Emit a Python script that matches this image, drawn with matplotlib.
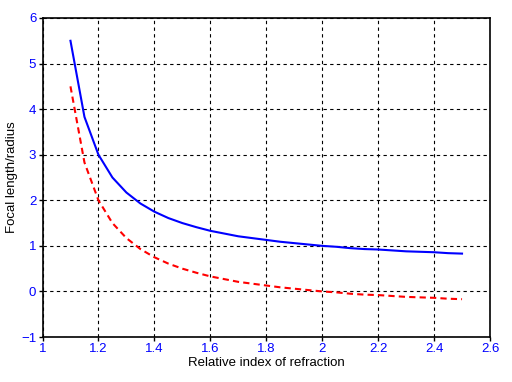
import matplotlib
matplotlib.use("Agg")
import matplotlib.pyplot as plt

# relative index of refraction (sampled every 0.05)
n_rel = [1.10, 1.15, 1.20, 1.25, 1.30, 1.35, 1.40, 1.45, 1.50, 1.55,
         1.60, 1.65, 1.70, 1.75, 1.80, 1.85, 1.90, 1.95, 2.00, 2.05,
         2.10, 2.15, 2.20, 2.25, 2.30, 2.35, 2.40, 2.45, 2.50]
# effective focal length / radius (solid blue)
efl = [5.50, 3.83, 3.00, 2.50, 2.17, 1.93, 1.75, 1.61, 1.50, 1.41,
       1.33, 1.27, 1.21, 1.17, 1.13, 1.09, 1.06, 1.03, 1.00, 0.98,
       0.95, 0.93, 0.92, 0.90, 0.88, 0.87, 0.86, 0.84, 0.83]
# back focal length / radius (dashed red)
bfl = [4.50, 2.83, 2.00, 1.50, 1.17, 0.93, 0.75, 0.61, 0.50, 0.41,
       0.33, 0.27, 0.21, 0.17, 0.13, 0.09, 0.06, 0.03, 0.00, -0.02,
       -0.05, -0.07, -0.08, -0.10, -0.12, -0.13, -0.14, -0.16, -0.17]

x_ticks = [1, 1.2, 1.4, 1.6, 1.8, 2, 2.2, 2.4, 2.6]
x_tick_labels = ["1", "1.2", "1.4", "1.6", "1.8", "2", "2.2", "2.4", "2.6"]
y_ticks = [-1, 0, 1, 2, 3, 4, 5, 6]

plt.rcParams["font.family"] = ["Liberation Sans", "DejaVu Sans"]

fig = plt.figure(figsize=(5.12, 3.82), dpi=100)
ax = fig.add_axes([42.5 / 512, 1 - 337 / 382, (490 - 42.5) / 512, (337 - 18) / 382])

ax.plot(n_rel, efl, color="#0000ff", lw=1.5)
ax.plot(n_rel, bfl, color="#ff0000", lw=1.5, ls=(0, (3, 2)))

ax.set_xlim(1, 2.6)
ax.set_ylim(-1, 6)
ax.set_xticks(x_ticks)
ax.set_xticklabels(x_tick_labels)
ax.set_yticks(y_ticks)

ax.grid(True, color="black", ls=(0, (3, 3)), lw=0.8)
for s in ax.spines.values():
    s.set_linewidth(1.2)
ax.tick_params(direction="out", length=3, width=1, labelsize=9.5,
               labelcolor="#0000ff", pad=1.5)

ax.set_xlabel("Relative index of refraction", fontsize=9.5, labelpad=1)
ax.set_ylabel("Focal length/radius", fontsize=9.5, labelpad=2)

fig.savefig("out.png", dpi=100)
